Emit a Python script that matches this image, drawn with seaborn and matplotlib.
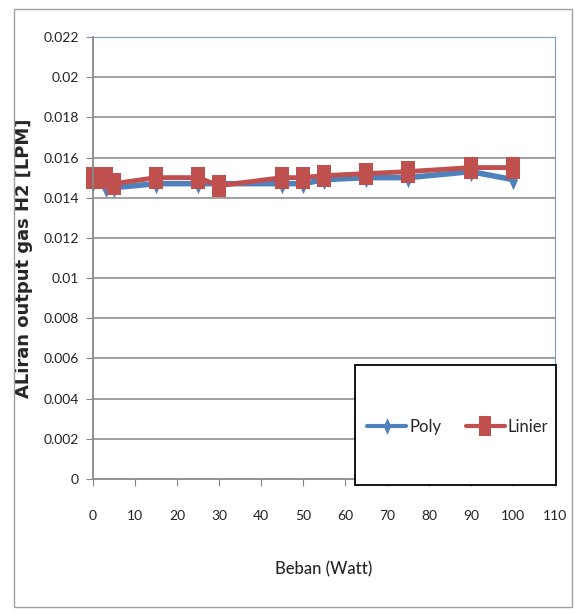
import numpy as np
import pandas as pd
import seaborn as sns
import matplotlib.pyplot as plt
from matplotlib.patches import Rectangle

# data
beban = [0, 3, 5, 15, 25, 30, 45, 50, 55, 65, 75, 90, 100]
poly = [0.0148, 0.0145, 0.0145, 0.0147, 0.0147, 0.0147, 0.0147, 0.0147,
        0.0149, 0.0150, 0.0150, 0.0153, 0.0149]
linier = [0.0150, 0.0150, 0.0147, 0.0150, 0.0150, 0.0146, 0.0150, 0.0150,
          0.0151, 0.0152, 0.0153, 0.0155, 0.0155]
y_ticks = [0, 0.002, 0.004, 0.006, 0.008, 0.01, 0.012, 0.014, 0.016,
           0.018, 0.02, 0.022]
y_labels = ["0", "0.002", "0.004", "0.006", "0.008", "0.01", "0.012",
            "0.014", "0.016", "0.018", "0.02", "0.022"]
x_ticks = [0, 10, 20, 30, 40, 50, 60, 70, 80, 90, 100, 110]

df_poly = pd.DataFrame({"Beban": beban, "Aliran": poly})
df_lin = pd.DataFrame({"Beban": beban, "Aliran": linier})

sns.set_style("white")
plt.rcParams["font.family"] = ["Lato", "DejaVu Sans"]

W, H = 575, 613
fig = plt.figure(figsize=(W / 100, H / 100), dpi=100)
ax = fig.add_axes([93 / W, 1 - 479 / H, (555 - 93) / W, (479 - 37) / H])

# outer frame of the chart
fig.patches.append(Rectangle((14 / W, 1 - 607 / H), 558 / W, 598 / H,
                             transform=fig.transFigure, fill=False,
                             edgecolor="#a0a0a0", linewidth=1))

for y in y_ticks[1:-1]:
    ax.axhline(y, color="#9a9a9a", linewidth=1.3, zorder=0)

blue = "#4F81BD"
red = "#C0504D"
rect = [(-0.62, -1), (0.62, -1), (0.62, 1), (-0.62, 1), (-0.62, -1)]
diamond = [(0, -1), (0.45, 0), (0, 1), (-0.45, 0), (0, -1)]

sns.lineplot(data=df_poly, x="Beban", y="Aliran", color=blue, marker=diamond,
             linewidth=4, markersize=14, markeredgewidth=0, ax=ax, clip_on=False)
sns.lineplot(data=df_lin, x="Beban", y="Aliran", color=red, marker=rect,
             linewidth=3.5, markersize=16, markeredgewidth=0, ax=ax, clip_on=False)

ax.set_xlim(0, 110)
ax.set_ylim(0, 0.022)
ax.set_xticks(x_ticks)
ax.set_yticks(y_ticks)
ax.set_yticklabels(y_labels)
ax.tick_params(axis="both", labelsize=10, colors="#888888", labelcolor="#222222",
               length=5, direction="out", left=True, bottom=True)
ax.tick_params(axis="y", pad=5)
ax.tick_params(axis="x", pad=17)

ax.spines["left"].set_color("#888888")
ax.spines["bottom"].set_color("#888888")
ax.spines["left"].set_linewidth(1.3)
ax.spines["bottom"].set_linewidth(1.3)
ax.spines["top"].set_color("#7a9cc8")
ax.spines["right"].set_color("#7a9cc8")

ax.set_xlabel("Beban (Watt)", fontsize=12, fontweight="medium")
ax.xaxis.set_label_coords((324 - 93) / 462, -(561 - 479) / 442)
ax.set_ylabel("ALiran output gas H2 [LPM]", fontsize=13, fontweight="bold",
              family=["DejaVu Sans"])
ax.yaxis.set_label_coords(-(93 - 33) / 462, (479 - 258) / 442)

# legend box in the lower right
fig.patches.append(Rectangle((355 / W, 1 - 485 / H), 201 / W, 120 / H,
                             transform=fig.transFigure, facecolor="white",
                             edgecolor="black", linewidth=1.3, zorder=5))
handles = [plt.Line2D([], [], color=blue, linewidth=3, marker=diamond, markersize=12,
                      markeredgewidth=0),
           plt.Line2D([], [], color=red, linewidth=3, marker=rect, markersize=14,
                      markeredgewidth=0)]
leg = fig.legend(handles, ["Poly", "Linier"], ncol=2, loc="center",
                 bbox_to_anchor=(458 / W, 1 - 427 / H), fontsize=12, frameon=False,
                 handlelength=2.3, columnspacing=1.5, handletextpad=0.2)
leg.set_zorder(6)

fig.savefig("out.png", dpi=100)
